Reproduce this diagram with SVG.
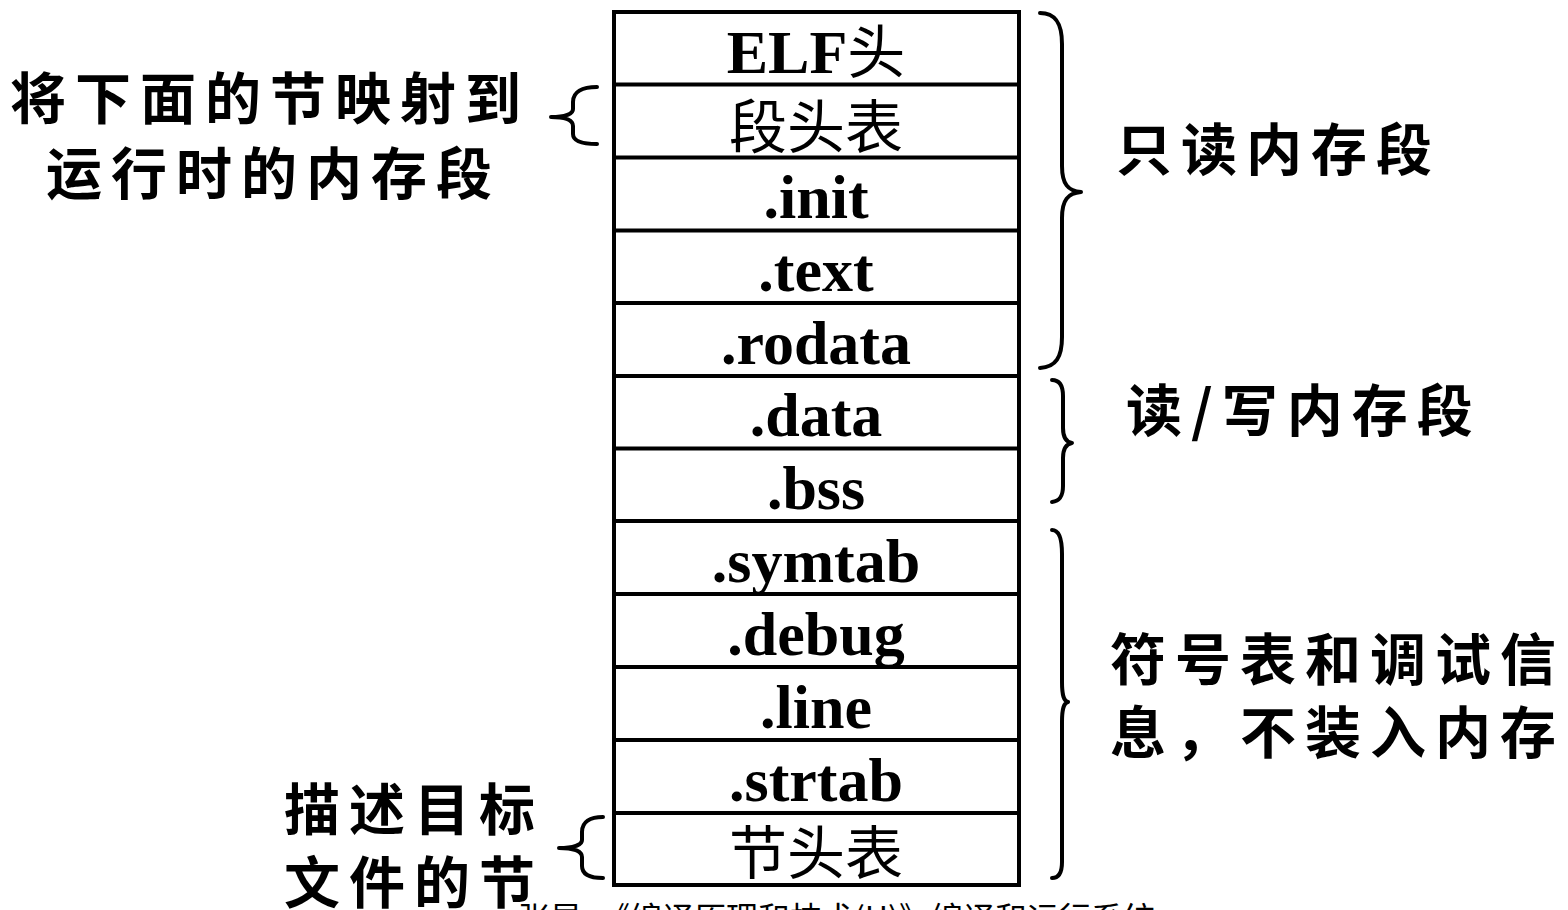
<svg xmlns="http://www.w3.org/2000/svg" width="1568" height="910" viewBox="0 0 1568 910">
<style>
.bg{fill:#fff}
.box{fill:none;stroke:#000;stroke-width:4}
.sep{stroke:#000;stroke-width:4}
.brace{fill:none;stroke:#000;stroke-width:4;stroke-linecap:round;stroke-linejoin:round}
.lat{font-family:"Liberation Serif","Times New Roman",serif;font-weight:bold;font-size:62px;fill:#000;text-anchor:middle}
.cjkr{font-family:"Noto Sans CJK SC","Noto Sans CJK JP",sans-serif;font-weight:normal;font-size:58px;fill:#000;text-anchor:middle}
.note{font-family:"Noto Sans CJK SC","Noto Sans CJK JP",sans-serif;font-weight:bold;font-size:56px;fill:#000;letter-spacing:9px}
.foot{font-family:"Noto Sans CJK SC","Noto Sans CJK JP",sans-serif;font-size:32px;fill:#000}
</style>
<rect class="bg" x="0" y="0" width="1568" height="910"/>
<text class="foot" x="518" y="930">张昱：《编译原理和技术(H)》编译和运行系统</text>
<g id="table">
<rect class="box" x="614" y="12" width="405" height="873"/>
<line class="sep" x1="614" y1="84.5" x2="1019" y2="84.5"/>
<line class="sep" x1="614" y1="157.5" x2="1019" y2="157.5"/>
<line class="sep" x1="614" y1="230.5" x2="1019" y2="230.5"/>
<line class="sep" x1="614" y1="303" x2="1019" y2="303"/>
<line class="sep" x1="614" y1="376" x2="1019" y2="376"/>
<line class="sep" x1="614" y1="448.5" x2="1019" y2="448.5"/>
<line class="sep" x1="614" y1="521" x2="1019" y2="521"/>
<line class="sep" x1="614" y1="594" x2="1019" y2="594"/>
<line class="sep" x1="614" y1="667" x2="1019" y2="667"/>
<line class="sep" x1="614" y1="740" x2="1019" y2="740"/>
<line class="sep" x1="614" y1="813" x2="1019" y2="813"/>
</g>
<g id="row-elf"><text class="lat" x="816" y="73">ELF<tspan style="font-family:'Noto Sans CJK SC',sans-serif;font-weight:normal;font-size:58px">头</tspan></text></g>
<g id="row-phdr"><text class="cjkr" x="816" y="148">段头表</text></g>
<g id="row-init"><text class="lat" x="816" y="218">.init</text></g>
<g id="row-text"><text class="lat" x="816" y="291">.text</text></g>
<g id="row-rodata"><text class="lat" x="816" y="364">.rodata</text></g>
<g id="row-data"><text class="lat" x="816" y="436">.data</text></g>
<g id="row-bss"><text class="lat" x="816" y="509">.bss</text></g>
<g id="row-symtab"><text class="lat" x="816" y="582">.symtab</text></g>
<g id="row-debug"><text class="lat" x="816" y="655">.debug</text></g>
<g id="row-line"><text class="lat" x="816" y="728">.line</text></g>
<g id="row-strtab"><text class="lat" x="816" y="801">.strtab</text></g>
<g id="row-shdr"><text class="cjkr" x="816" y="874">节头表</text></g>
<g id="connectors">
<path class="brace" d="M597,87 C582,87 573,92 573,102 L573,109 C573,114 565,117 551,117 C565,117 573,120 573,126 L573,134 C573,141 582,144 597,144"/>
<path class="brace" d="M603,817 C590,817 582,822 582,832 L582,840 C582,845 573,848 559,848 C573,848 582,851 582,857 L582,866 C582,874 590,878 603,878"/>
<path class="brace" d="M1040,13 C1056,13 1062,24 1062,44 L1062,166 C1062,184 1068,191 1081,192 C1068,193 1062,200 1062,218 L1062,337 C1062,357 1056,367 1040,368"/>
<path class="brace" d="M1052,380 C1060,380 1063,386 1063,396 L1063,428 C1063,437 1066,442 1072,443 C1066,444 1063,449 1063,458 L1063,486 C1063,496 1060,501 1052,502"/>
<path class="brace" d="M1052,530 C1059,530 1062,538 1062,554 L1062,682 C1062,696 1064,701 1068,702 C1064,703 1062,708 1062,722 L1062,862 C1062,872 1059,878 1052,878"/>
</g>
<g id="label-map">
<text class="note" x="10" y="119">将下面的节映射到</text>
<text class="note" x="46" y="194">运行时的内存段</text>
</g>
<g id="label-ro"><text class="note" x="1116" y="170">只读内存段</text></g>
<g id="label-rw"><text class="note" x="1126" y="431">读/写内存段</text></g>
<g id="label-sym">
<text class="note" x="1110" y="680">符号表和调试信</text>
<text class="note" x="1110" y="753">息，不装入内存</text>
</g>
<g id="label-desc">
<text class="note" x="284" y="830">描述目标</text>
<text class="note" x="284" y="903">文件的节</text>
</g>
</svg>
